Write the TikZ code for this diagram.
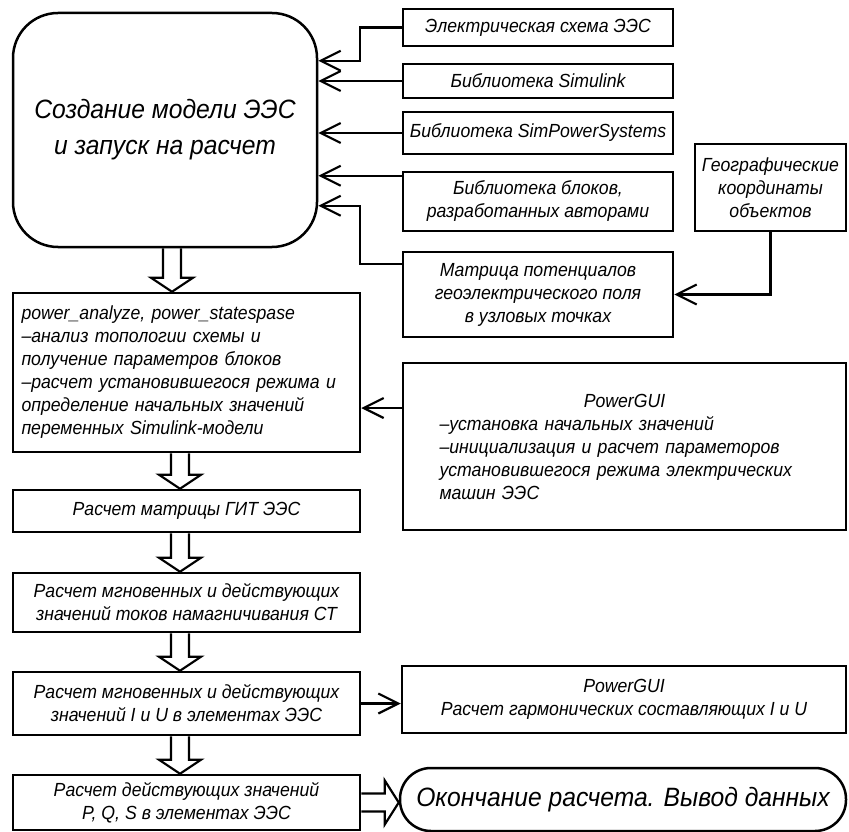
\documentclass[tikz,border=0pt]{standalone}
\usepackage{fontspec}
\setmainfont{Liberation Sans}[FakeStretch=0.93]
\usepackage{tikz}
\usetikzlibrary{positioning, calc, arrows.meta}
% Hollow block arrow going down from box #1 to box #2, shifted by #3
\newcommand{\hollowdown}[3]{%
    \draw [BlockArrow] ($(#1.south -| #2.north)+(#3-9,0)$) -- ($(#2.north)+(#3-9,14)$)
        -- ($(#2.north)+(#3-21,14)$) -- ($(#2.north)+(#3,0)$)
        -- ($(#2.north)+(#3+21,14)$) -- ($(#2.north)+(#3+9,14)$)
        -- ($(#1.south -| #2.north)+(#3+9,0)$);}
% Hollow block arrow going right from box #1 to box #2
\newcommand{\hollowright}[2]{%
    \draw [BlockArrow] ($(#1.east)+(0,9)$) -- ($(#1.east -| #2.west)+(-14,9)$)
        -- ($(#1.east -| #2.west)+(-14,22)$) -- (#1.east -| #2.west)
        -- ($(#1.east -| #2.west)+(-14,-22)$) -- ($(#1.east -| #2.west)+(-14,-9)$)
        -- ($(#1.east)+(0,-9)$);}

\begin{document}
\begin{tikzpicture}[
    % GLOBAL CFG
    x=1pt, y=1pt,
    font=\itshape\fontsize{19}{23}\selectfont,
    >={Straight Barb[length=20pt,width=20pt]},
    % Styles
    block/.style={% For plain boxes
        rectangle,
        draw,
        line width=2.5pt,
        inner sep=2pt,
        align=center,
    },
    bigbox/.style={% For the start and end boxes
        rectangle,
        draw,
        line width=2.5pt,
        inner sep=2pt,
        align=center,
        font=\itshape\fontsize{26.5}{36}\selectfont,
    },
    ArrowC1/.style={% Thin arrows
        line width=2.2pt,
    },
    BlockArrow/.style={% Hollow arrows
        line width=2.2pt,
        line join=miter,
    },
    ]

    \useasboundingbox (0,0) rectangle (849,-832);

    % Draw start box
    \node [bigbox, rounded corners=45pt, minimum width=304pt, minimum height=234pt]
        (model) at (165,-130) {Создание модели ЭЭС\\ и запуск на расчет};

    % Draw sources named src#
    \node [block, minimum width=270pt, minimum height=37pt] (src1) at (538,-27.5) {Электрическая схема ЭЭС};
    \node [block, minimum width=270pt, minimum height=34pt] (src2) at (538,-81) {Библиотека Simulink};
    \node [block, minimum width=270pt, minimum height=42pt] (src3) at (538,-133) {Библиотека SimPowerSystems};
    \node [block, minimum width=270pt, minimum height=59pt] (src4) at (538,-201.5) {Библиотека блоков,\\ разработанных авторами};
    \node [block, minimum width=270pt, minimum height=85pt] (src5) at (538,-294.5) {Матрица потенциалов\\ геоэлектрического поля\\ в узловых точках};
    \node [block, minimum width=151pt, minimum height=87pt] (geo) at (770.5,-187.5) {Географические\\ координаты\\ объектов};

    % Draw main chain
    \node [block, minimum width=347pt, minimum height=159pt, text width=330pt, align=left]
        (analyze) at (186.5,-372.5) {power\_analyze, power\_statespase\\ –анализ топологии схемы и\\ получение параметров блоков\\ –расчет установившегося режима и\\ определение начальных значений\\ переменных Simulink-модели};
    \node [block, minimum width=347pt, minimum height=42pt] (git) at (186.5,-511) {Расчет матрицы ГИТ ЭЭС};
    \node [block, minimum width=347pt, minimum height=59pt] (mag) at (186.5,-602.5) {Расчет мгновенных и действующих\\ значений токов намагничивания СТ};
    \node [block, minimum width=347pt, minimum height=63pt] (inst) at (186.5,-703.5) {Расчет мгновенных и действующих\\ значений I и U в элементах ЭЭС};
    \node [block, minimum width=347pt, minimum height=55pt] (eff) at (186.5,-802.5) {Расчет действующих значений\\ P, Q, S в элементах ЭЭС};

    % Draw PowerGUI boxes and end
    \node [block, minimum width=443pt, minimum height=167pt, text width=370pt, align=left]
        (gui1) at (624.5,-446.5) {\hbox to \hsize{\hfil PowerGUI\hfil}\\ –установка начальных значений\\ –инициализация и расчет параметоров\\ установившегося режима электрических\\ машин ЭЭС};
    \node [block, minimum width=444pt, minimum height=67pt] (gui2) at (624,-699.5) {PowerGUI\\ Расчет гармонических составляющих I и U};
    \node [bigbox, rounded corners=31pt, minimum width=446pt, minimum height=63pt]
        (finish) at (623,-799.5) {Окончание расчета. Вывод данных};

    % Connect all
    \coordinate (bus) at (360,0);
    \coordinate (in1) at ($(model.north east)+(0,-49)$);
    \coordinate (in4) at ($(src4.north west)+(0,-5)$);
    \coordinate (in5) at ($(src5.north west)+(0,-13)$);
    \coordinate (out5) at ($(model.north east)+(0,-194)$);
    \coordinate (in6) at ($(analyze.east)+(0,-35.5)$);

    % Inputs
    \draw [->, ArrowC1] (src1.west) -- (src1.west -| bus) |- (in1);
    \draw [->, ArrowC1] (src2.west) -- (src2.west -| model.east);
    \draw [->, ArrowC1] (src3.west) -- (src3.west -| model.east);
    \draw [->, ArrowC1] (in4) -- (in4 -| model.east);
    \draw [->, ArrowC1] (in5) -- (in5 -| bus) |- (out5);
    \draw [->, ArrowC1] (geo.south) |- (src5.east);
    \draw [->, ArrowC1] (in6 -| gui1.west) -- (in6);
    \draw [->, ArrowC1] (inst.east) -- (inst.east -| gui2.west);

    % Chain
    \hollowdown{model}{analyze}{-14.5}
    \hollowdown{analyze}{git}{-6.5}
    \hollowdown{git}{mag}{-6.5}
    \hollowdown{mag}{inst}{-6.5}
    \hollowdown{inst}{eff}{-6.5}
    \hollowright{eff}{finish}

\end{tikzpicture}
\end{document}
